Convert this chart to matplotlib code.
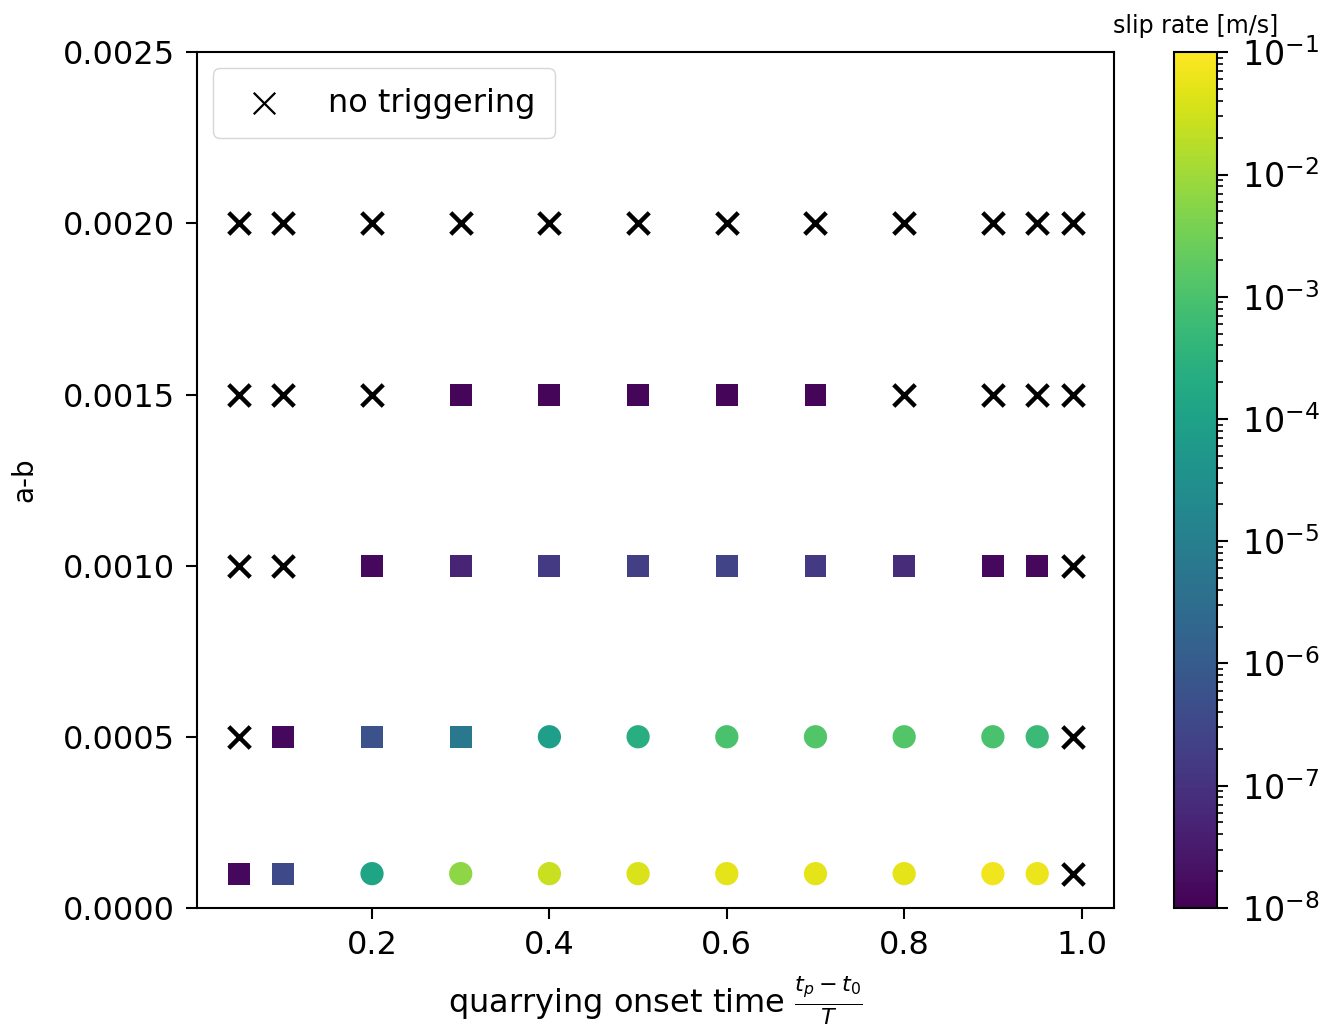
import numpy as np
import matplotlib
matplotlib.use("Agg")
import matplotlib.pyplot as plt
from matplotlib.colors import LogNorm
from matplotlib.ticker import NullFormatter

onset = [0.05, 0.1, 0.2, 0.3, 0.4, 0.5, 0.6, 0.7, 0.8, 0.9, 0.95, 0.99]
ab_values = [0.0001, 0.0005, 0.0010, 0.0015, 0.0020]

# log10 of slip rate per row (None = no triggering), rows follow ab_values
log_rate = [
    [-7.85, -6.45, -3.9, -2.2, -1.6, -1.4, -1.3, -1.3, -1.3, -1.15, -1.2, None],
    [None, -7.85, -6.25, -5.2, -4.1, -3.6, -3.0, -2.9, -2.9, -3.0, -3.25, None],
    [None, None, -7.85, -7.3, -6.8, -6.7, -6.6, -6.8, -7.15, -7.85, -7.85, None],
    [None, None, None, -7.9, -7.9, -7.9, -7.9, -7.9, None, None, None, None],
    [None] * 12,
]
# 's' = square, 'o' = circle
shape = [
    ["s", "s", "o", "o", "o", "o", "o", "o", "o", "o", "o", ""],
    ["", "s", "s", "s", "o", "o", "o", "o", "o", "o", "o", ""],
    ["", "", "s", "s", "s", "s", "s", "s", "s", "s", "s", ""],
    ["", "", "", "s", "s", "s", "s", "s", "", "", "", ""],
    [""] * 12,
]

fig = plt.figure(figsize=(13.33, 10.27), dpi=100)
ax = fig.add_axes([0.148, 0.116, 0.688, 0.833])
cax = fig.add_axes([0.881, 0.116, 0.032, 0.833])

norm = LogNorm(vmin=1e-8, vmax=1e-1)
cmap = plt.get_cmap("viridis")

nx, ny = [], []
for j, ab in enumerate(ab_values):
    for i, t in enumerate(onset):
        v = log_rate[j][i]
        if v is None:
            nx.append(t)
            ny.append(ab)
        else:
            ax.scatter(t, ab, c=[10 ** v], cmap=cmap, norm=norm,
                       marker=shape[j][i], s=250 if shape[j][i] == "s" else 280,
                       edgecolors="none")

ax.scatter(nx, ny, marker="x", color="black", s=240, linewidths=3.2,
           label="no triggering")

ax.set_ylim(0, 0.0025)
ax.set_yticks([0, 0.0005, 0.001, 0.0015, 0.002, 0.0025])
ax.set_yticklabels(["0.0000", "0.0005", "0.0010", "0.0015", "0.0020", "0.0025"])
ax.tick_params(labelsize=23, width=1.5, length=8, pad=8)
for sp in ax.spines.values():
    sp.set_linewidth(1.5)
ax.set_xlabel(r"quarrying onset time $\frac{t_p - t_0}{T}$", fontsize=23,
              labelpad=9)
ax.set_ylabel("a-b", fontsize=20, labelpad=18)

leg = ax.legend(loc="upper left", fontsize=23, handletextpad=1.0,
                borderpad=0.6)
leg.legend_handles[0].set_linewidths([1.6])

sm = plt.cm.ScalarMappable(norm=norm, cmap=cmap)
cb = fig.colorbar(sm, cax=cax)
cb.ax.yaxis.set_minor_formatter(NullFormatter())
cb.ax.tick_params(labelsize=24, width=1.5, length=8, pad=10)
cb.ax.tick_params(which="minor", width=1.2, length=4)
cb.outline.set_linewidth(1.5)
cb.ax.set_title("slip rate [m/s]", fontsize=17, pad=14)

fig.savefig("out.png", dpi=100)
